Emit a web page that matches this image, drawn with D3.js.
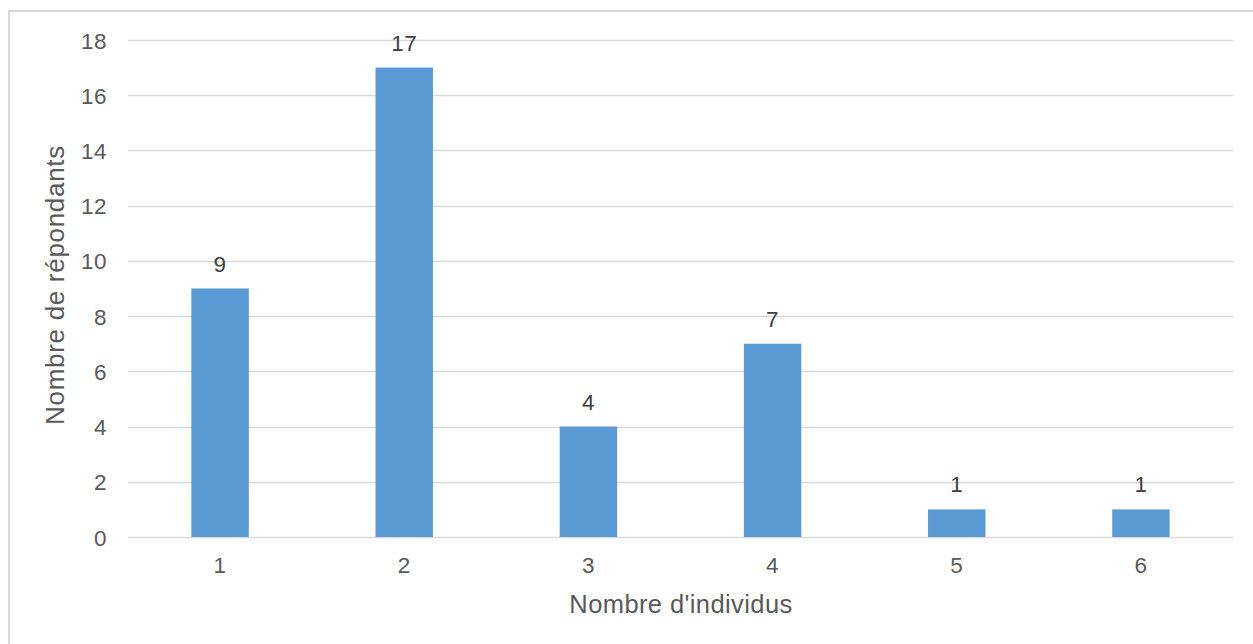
<!DOCTYPE html>
<html>
<head>
<meta charset="utf-8">
<script src="https://cdn.jsdelivr.net/npm/d3@7"></script>
<style>
  html, body { margin: 0; padding: 0; background: #fff; }
  svg { display: block; }
  text { font-family: "Liberation Sans", Arial, sans-serif; }
</style>
</head>
<body>
<svg id="chart" width="1253" height="644"></svg>
<script>
const categories = ["1", "2", "3", "4", "5", "6"];
const values = [9, 17, 4, 7, 1, 1];
const yTicks = [0, 2, 4, 6, 8, 10, 12, 14, 16, 18];
const xTitle = "Nombre d'individus";
const yTitle = "Nombre de répondants";

const svg = d3.select("#chart");
const W = 1253, H = 644;
const plot = { left: 128, right: 1233, top: 40, bottom: 537 };

svg.append("rect").attr("x", 9).attr("y", 11).attr("width", W + 20).attr("height", H + 20)
  .attr("fill", "#fff").attr("stroke", "#d9d9d9").attr("stroke-width", 2);

const x = d3.scaleBand().domain(categories).range([plot.left, plot.right]).padding(0);
const y = d3.scaleLinear().domain([0, 18]).range([plot.bottom, plot.top]);

// gridlines
svg.append("g").selectAll("line").data(yTicks).join("line")
  .attr("x1", plot.left).attr("x2", plot.right)
  .attr("y1", d => Math.round(y(d)) + 0.5).attr("y2", d => Math.round(y(d)) + 0.5)
  .attr("stroke", "#d9d9d9").attr("stroke-width", 1.5);

// y axis labels
const yAxis = d3.axisLeft(y).tickValues(yTicks).tickSize(0).tickPadding(21);
const gy = svg.append("g").attr("transform", `translate(${plot.left},0)`).call(yAxis);
gy.select(".domain").remove();
gy.selectAll("text").attr("fill", "#595959").style("font-size", "22.5px").style("letter-spacing", "0.5px")
  .attr("dy", "0.36em");

// x axis labels
const xAxis = d3.axisBottom(x).tickSize(0).tickPadding(20);
const gx = svg.append("g").attr("transform", `translate(0,${plot.bottom})`).call(xAxis);
gx.select(".domain").remove();
gx.selectAll("text").attr("fill", "#595959").style("font-size", "22.5px").style("letter-spacing", "0.5px")
  .attr("dy", "0.71em");

// bars
const barW = x.bandwidth() * 0.312;
const data = categories.map((c, i) => ({ c, v: values[i] }));
svg.append("g").selectAll("rect").data(data).join("rect")
  .attr("x", d => x(d.c) + (x.bandwidth() - barW) / 2)
  .attr("width", barW)
  .attr("y", d => y(d.v))
  .attr("height", d => y(0) - y(d.v))
  .attr("fill", "#5b9bd5");

// data labels
svg.append("g").selectAll("text").data(data).join("text")
  .attr("x", d => x(d.c) + x.bandwidth() / 2)
  .attr("y", d => y(d.v) - 17)
  .attr("text-anchor", "middle")
  .attr("fill", "#404040")
  .style("font-size", "22.5px").style("letter-spacing", "0.5px")
  .text(d => d.v);

// axis titles
svg.append("text").attr("x", 681).attr("y", 613).attr("text-anchor", "middle")
  .attr("fill", "#595959").style("font-size", "25.5px").style("letter-spacing", "0.4px")
  .text(xTitle);
svg.append("text").attr("transform", "translate(64,285) rotate(-90)").attr("text-anchor", "middle")
  .attr("fill", "#595959").style("font-size", "26px").style("letter-spacing", "0.7px")
  .text(yTitle);
</script>
</body>
</html>
